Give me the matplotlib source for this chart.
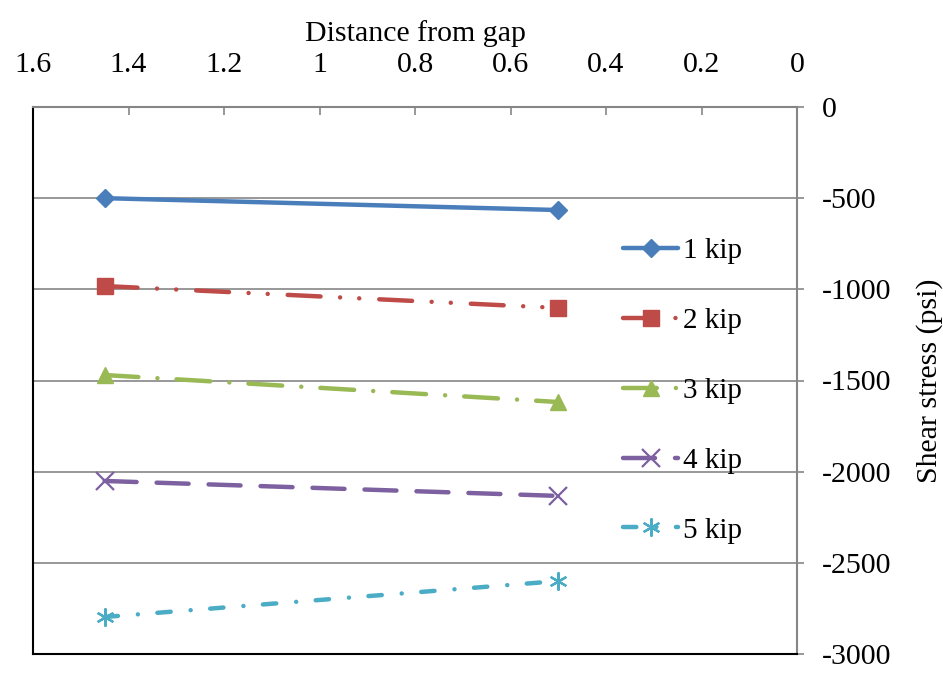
import numpy as np
import matplotlib
matplotlib.use("Agg")
import matplotlib.pyplot as plt
from matplotlib.ticker import MultipleLocator

plt.rcParams['font.family'] = ['Liberation Serif', 'DejaVu Serif']
plt.rcParams['axes.unicode_minus'] = False

# data
distance = [1.45, 0.5]
kip_1 = [-500, -565]
kip_2 = [-982, -1102]
kip_3 = [-1470, -1618]
kip_4 = [-2051, -2133]
kip_5 = [-2797, -2600]
labels = ['1 kip', '2 kip', '3 kip', '4 kip', '5 kip']
x_ticks = [1.6, 1.4, 1.2, 1, 0.8, 0.6, 0.4, 0.2, 0]
x_ticklabels = ['1.6', '1.4', '1.2', '1', '0.8', '0.6', '0.4', '0.2', '0']

fig = plt.figure(figsize=(9.43, 6.77), dpi=100)
ax = fig.add_axes([33 / 943, 1 - 654 / 677, 764 / 943, 547 / 677])

lw = 3.2
series = [
    (kip_1, '#4A7EBB', '-', 'D', 9.5, 1),
    (kip_2, '#BE4B48', (0, (7.4, 4.4, 0.01, 4.3, 0.01, 4.5)), 's', 11, 1),
    (kip_3, '#98B954', (0, (7.6, 4.3, 0.01, 4.3)), '^', 12, 1),
    (kip_4, '#7D60A0', (0, (7.2, 4.5)), 'x', 13, 1.6),
    (kip_5, '#4BACC6', (0, (3.0, 4.5, 0.01, 4.4)), (6, 2, 0), 13, 1.6),
]
for (vals, col, ls, mk, ms, mew), lab in zip(series, labels):
    ax.plot(distance, vals, color=col, linestyle=ls, lw=lw,
            dash_capstyle='round', solid_capstyle='round',
            marker=mk, markersize=ms, markeredgewidth=mew,
            markerfacecolor=col, markeredgecolor=col, label=lab)

ax.set_xlim(1.6, 0)
ax.set_ylim(-3000, 0)
ax.set_xticks(x_ticks)
ax.set_xticklabels(x_ticklabels)
ax.yaxis.set_major_locator(MultipleLocator(500))

ax.xaxis.tick_top()
ax.xaxis.set_label_position('top')
ax.yaxis.tick_right()
ax.yaxis.set_label_position('right')

ax.tick_params(axis='x', direction='in', length=6, width=1.2, color='#868686',
               labelsize=21.5, pad=21)
ax.tick_params(axis='y', direction='out', length=5, width=1.2, color='#868686',
               labelsize=21.5, pad=13)

ax.set_xlabel('Distance from gap', fontsize=21.5, labelpad=8)
ax.set_ylabel('Shear stress (psi)', fontsize=21.5, labelpad=18)

ax.grid(axis='y', color='#868686', lw=1.2)
ax.set_axisbelow(True)

ax.spines['top'].set_color('#868686')
ax.spines['right'].set_color('#868686')
ax.spines['top'].set_linewidth(1.5)
ax.spines['right'].set_linewidth(1.5)
ax.spines['left'].set_color('black')
ax.spines['bottom'].set_color('black')
ax.spines['left'].set_linewidth(1.5)
ax.spines['bottom'].set_linewidth(1.5)

ax.legend(loc='upper left', bbox_to_anchor=(0.772, 0.761), frameon=False,
          fontsize=21, handlelength=1.9, handletextpad=0.15,
          labelspacing=1.49, borderpad=0, borderaxespad=0)

fig.savefig('out.png', dpi=100)
